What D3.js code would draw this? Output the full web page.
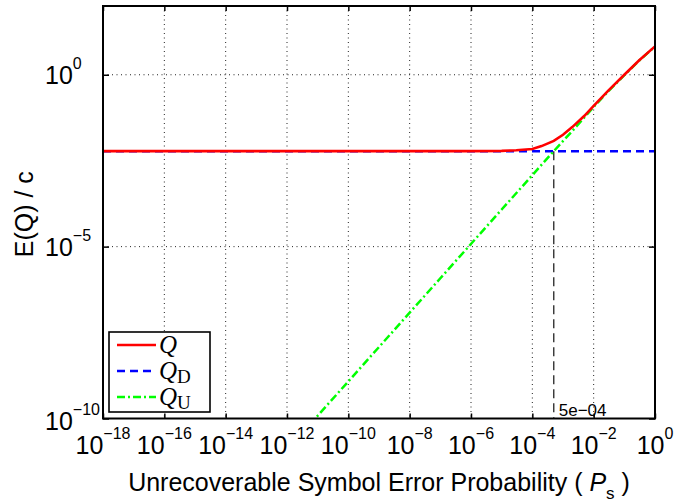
<!DOCTYPE html>
<html>
<head>
<meta charset="utf-8">
<script src="https://cdnjs.cloudflare.com/ajax/libs/d3/7.8.5/d3.min.js"></script>
<style>
  body { margin: 0; background: #fff; }
  text { font-family: "Liberation Sans", Arial, Helvetica, sans-serif; fill: #000; }
</style>
</head>
<body>
<div id="chart"></div>
<script>
// tick exponents (powers of ten)
const xTickExp = [-18, -16, -14, -12, -10, -8, -6, -4, -2, 0];
const yTickExp = [-10, -5, 0];

// Q_D : constant part
const qdPs  = [1e-18, 1];
const qdVal = [6e-3, 6e-3];

// Q_U : grows with Ps
const quPs  = [1e-13, 1e-11, 1e-9, 1e-7, 1e-5, 1e-4, 5e-4, 2e-3, 1e-2, 3e-2, 0.1, 0.3, 1];
const quVal = [1.2e-12, 1.2e-10, 1.2e-8, 1.2e-6, 1.2e-4, 1.2e-3, 6e-3, 0.023, 0.116, 0.33, 0.97, 2.55, 6.6];

// Q : total
const qPs  = [1e-18, 1e-10, 1e-7, 1e-6, 1e-5, 3e-5, 1e-4, 2e-4, 5e-4, 1e-3, 2e-3, 5e-3, 1e-2, 3e-2, 0.1, 0.3, 1];
const qVal = [6e-3, 6e-3, 6e-3, 6.01e-3, 6.12e-3, 6.36e-3, 6.95e-3, 8.4e-3, 0.0119, 0.018, 0.030, 0.064, 0.124, 0.345, 1.0, 2.6, 6.7];

// marker for the crossing point
const markPs = 5e-4;
const markLabel = '5e\u221204';

const W = 692, H = 504;
const plot = {left: 103, right: 655, top: 6, bottom: 418.5};

const svg = d3.select('#chart').append('svg')
    .attr('width', W)
    .attr('height', H);

const x = d3.scaleLog()
    .domain([1e-18, 1])
    .range([plot.left, plot.right]);

const y = d3.scaleLog()
    .domain([1e-10, 1e2])
    .range([plot.bottom, plot.top]);

const pw = plot.right - plot.left;
const ph = plot.bottom - plot.top;

svg.append('clipPath').attr('id', 'clip')
  .append('rect')
    .attr('x', plot.left).attr('y', plot.top)
    .attr('width', pw).attr('height', ph);

//dotted grid first so it sits in the back
const grid = svg.append('g').attr('class', 'grid');
grid.selectAll('line.gx')
    .data(xTickExp.slice(1, -1))
  .enter().append('line')
    .attr('class', 'gx')
    .attr('x1', d => x(Math.pow(10, d))).attr('x2', d => x(Math.pow(10, d)))
    .attr('y1', plot.top).attr('y2', plot.bottom);
grid.selectAll('line.gy')
    .data(yTickExp.slice(1))
  .enter().append('line')
    .attr('class', 'gy')
    .attr('x1', plot.left).attr('x2', plot.right)
    .attr('y1', d => y(Math.pow(10, d))).attr('y2', d => y(Math.pow(10, d)));
grid.selectAll('line')
    .style('stroke', '#222')
    .style('stroke-width', 1)
    .style('stroke-dasharray', '1,3.5');

const lines = svg.append('g').attr('clip-path', 'url(#clip)');

const line = d3.line()
    .x(d => x(d[0]))
    .y(d => y(d[1]));

// vertical marker line from Q_D level down
lines.append('line')
    .attr('x1', x(markPs)).attr('x2', x(markPs))
    .attr('y1', y(qdVal[0])).attr('y2', plot.bottom)
    .style('stroke', '#222')
    .style('stroke-width', 1.3)
    .style('stroke-dasharray', '9,5');

lines.append('path')
    .datum(d3.zip(qdPs, qdVal))
    .attr('d', line)
    .style('fill', 'none')
    .style('stroke', '#0000ff')
    .style('stroke-width', 2.5)
    .style('stroke-dasharray', '8,5');

lines.append('path')
    .datum(d3.zip(quPs, quVal))
    .attr('d', line)
    .style('fill', 'none')
    .style('stroke', '#00ff00')
    .style('stroke-width', 2.5)
    .style('stroke-dasharray', '8,3,2,3');

lines.append('path')
    .datum(d3.zip(qPs, qVal))
    .attr('d', line)
    .style('fill', 'none')
    .style('stroke', '#ff0000')
    .style('stroke-width', 2.6);

svg.append('text')
    .attr('x', x(markPs) + 5)
    .attr('y', plot.bottom - 3)
    .style('font-size', '17px')
    .text(markLabel);

// axes: ticks point inward on all four sides
const xTicks = xTickExp.map(e => Math.pow(10, e));
const yTicks = yTickExp.map(e => Math.pow(10, e));

svg.append('g')
    .attr('transform', 'translate(0,' + plot.bottom + ')')
    .call(d3.axisBottom(x).tickValues(xTicks).tickSize(-5).tickFormat(''));
svg.append('g')
    .attr('transform', 'translate(0,' + plot.top + ')')
    .call(d3.axisTop(x).tickValues(xTicks).tickSize(-5).tickFormat(''));
svg.append('g')
    .attr('transform', 'translate(' + plot.left + ',0)')
    .call(d3.axisLeft(y).tickValues(yTicks).tickSize(-6).tickFormat(''));
svg.append('g')
    .attr('transform', 'translate(' + plot.right + ',0)')
    .call(d3.axisRight(y).tickValues(yTicks).tickSize(-6).tickFormat(''));

svg.selectAll('.domain').remove();
svg.selectAll('.tick line').style('stroke', '#000').style('stroke-width', 1.5);

svg.append('rect')
    .attr('x', plot.left).attr('y', plot.top)
    .attr('width', pw).attr('height', ph)
    .style('fill', 'none')
    .style('stroke', '#000')
    .style('stroke-width', 2);

// tick labels as 10^n
const xLab = svg.selectAll('text.xlab')
    .data(xTickExp)
  .enter().append('text')
    .attr('class', 'xlab')
    .attr('x', d => x(Math.pow(10, d)))
    .attr('y', 454)
    .style('text-anchor', 'middle')
    .style('font-size', '25px');
xLab.append('tspan').text('10');
xLab.append('tspan')
    .attr('dy', -15)
    .style('font-size', '16px')
    .text(d => String(d).replace('-', '\u2212'));

const yLab = svg.selectAll('text.ylab')
    .data(yTickExp)
  .enter().append('text')
    .attr('class', 'ylab')
    .attr('x', 45)
    .attr('y', d => y(Math.pow(10, d)) + (d === -10 ? 11 : 9))
    .style('font-size', '25px');
yLab.append('tspan').text('10');
yLab.append('tspan')
    .attr('dy', -15)
    .style('font-size', '16px')
    .text(d => String(d).replace('-', '\u2212'));

// axis titles
const xTitle = svg.append('text')
    .attr('x', (plot.left + plot.right) / 2)
    .attr('y', 491)
    .style('text-anchor', 'middle')
    .style('font-size', '25px');
xTitle.append('tspan').text('Unrecoverable Symbol Error Probability ( ');
xTitle.append('tspan').style('font-style', 'italic').text('P');
xTitle.append('tspan').attr('dy', 8).style('font-size', '17px').text('s');
xTitle.append('tspan').attr('dy', -8).text(' )');

svg.append('text')
    .attr('transform', 'translate(33,' + ((plot.top + plot.bottom) / 2 + 2) + ') rotate(-90)')
    .style('text-anchor', 'middle')
    .style('font-size', '25px')
    .text('E(Q) / c');

// legend
const legendItems = [
    {name: 'Q', sub: '', color: '#ff0000', dash: null},
    {name: 'Q', sub: 'D', color: '#0000ff', dash: '8,5'},
    {name: 'Q', sub: 'U', color: '#00ff00', dash: '8,3,2,3'}
];

const legend = svg.append('g').attr('class', 'legend');
legend.append('rect')
    .attr('x', 109).attr('y', 332)
    .attr('width', 101).attr('height', 80)
    .style('fill', '#fff')
    .style('stroke', '#000')
    .style('stroke-width', 1.6);

const rows = legend.selectAll('g.row')
    .data(legendItems)
  .enter().append('g')
    .attr('class', 'row')
    .attr('transform', (d, i) => 'translate(0,' + (345 + i * 26) + ')');

rows.append('line')
    .attr('x1', 117).attr('x2', 156)
    .attr('y1', 0).attr('y2', 0)
    .style('stroke', d => d.color)
    .style('stroke-width', 2.5)
    .style('stroke-dasharray', d => d.dash);

const lt = rows.append('text')
    .attr('x', 159)
    .attr('y', 8)
    .style('font-family', '"Liberation Serif", "DejaVu Serif", serif')
    .style('font-size', '25px');
lt.append('tspan').style('font-style', 'italic').text(d => d.name);
lt.append('tspan')
    .attr('dy', 4)
    .style('font-size', '19px')
    .text(d => d.sub);
</script>
</body>
</html>
